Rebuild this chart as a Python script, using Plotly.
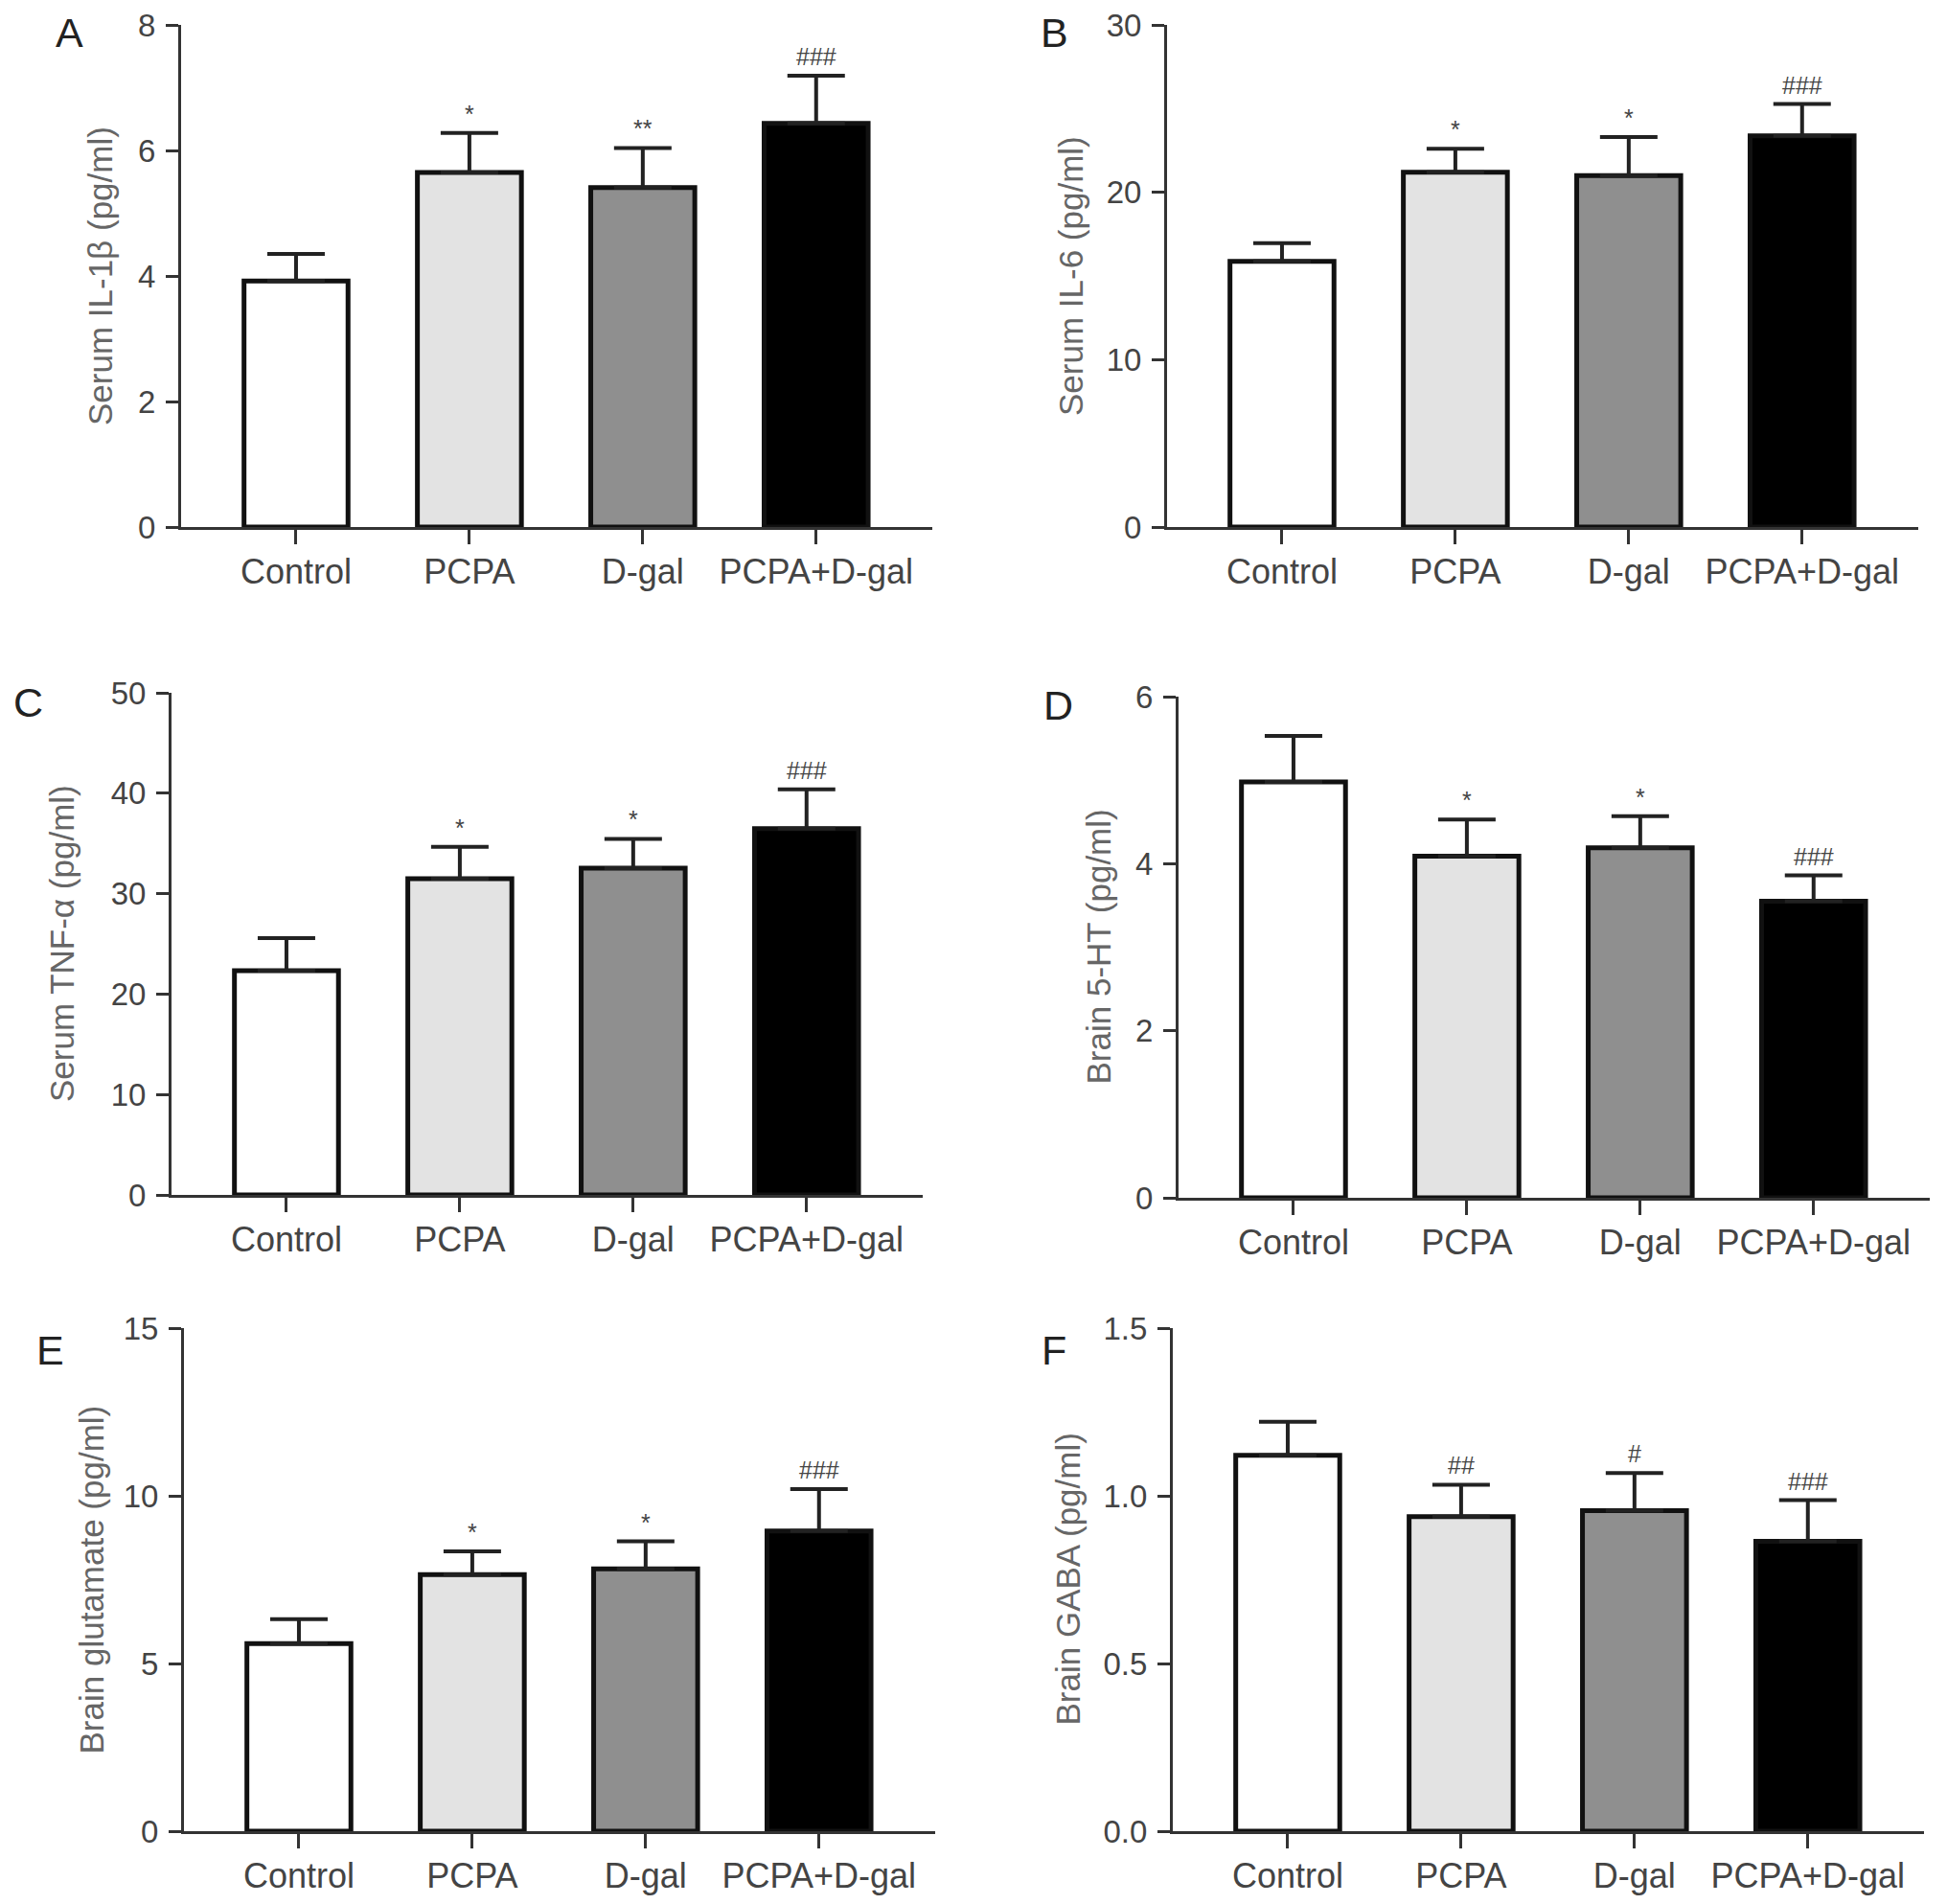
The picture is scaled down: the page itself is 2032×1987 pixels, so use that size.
import plotly.graph_objects as go

groups = ["Control", "PCPA", "D-gal", "PCPA+D-gal"]
bar_colors = ["#ffffff", "#e3e3e3", "#8f8f8f", "#000000"]

# means and upper error (SEM)
il1b_mean = [3.92, 5.65, 5.41, 6.43]
il1b_sem = [0.43, 0.63, 0.63, 0.76]
il1b_marks = ["", "*", "**", "###"]

il6_mean = [15.87, 21.2, 21.0, 23.38]
il6_sem = [1.09, 1.4, 2.3, 1.89]
il6_marks = ["", "*", "*", "###"]

tnf_mean = [22.33, 31.5, 32.55, 36.47]
tnf_sem = [3.24, 3.15, 2.91, 3.92]
tnf_marks = ["", "*", "*", "###"]

ht5_mean = [4.98, 4.09, 4.19, 3.55]
ht5_sem = [0.55, 0.44, 0.38, 0.31]
ht5_marks = ["", "*", "*", "###"]

glu_mean = [5.59, 7.65, 7.82, 8.95]
glu_sem = [0.73, 0.69, 0.82, 1.25]
glu_marks = ["", "*", "*", "###"]

gaba_mean = [1.121, 0.938, 0.956, 0.864]
gaba_sem = [0.10, 0.095, 0.112, 0.123]
gaba_marks = ["", "##", "#", "###"]

# page body has an 8px margin, so the figure is a bit smaller than the window
OFF = 8
W, H = 2032 - 2 * OFF, 1987 - 2 * OFF


def px_x(v):
    return (v - OFF) / W


def px_y(v):
    return 1 - (v - OFF) / H


# letter, y title, data, y max, dtick, tick format,
# y-axis x (px), plot top (px), plot bottom (px), title offset (px), letter pos (px)
panels = [
    ("A", "Serum IL-1\u03b2 (pg/ml)", il1b_mean, il1b_sem, il1b_marks, 8, 2, "", 189, 26, 550, 85, (72, 34)),
    ("B", "Serum IL-6 (pg/ml)", il6_mean, il6_sem, il6_marks, 30, 10, "", 1218, 26, 550, 101, (1100, 34)),
    ("C", "Serum TNF-\u03b1 (pg/ml)", tnf_mean, tnf_sem, tnf_marks, 50, 10, "", 179, 723, 1247, 115, (29, 733)),
    ("D", "Brain 5-HT (pg/ml)", ht5_mean, ht5_sem, ht5_marks, 6, 2, "", 1230, 727, 1250, 84, (1104, 736)),
    ("E", "Brain glutamate (pg/ml)", glu_mean, glu_sem, glu_marks, 15, 5, "", 192, 1386, 1911, 97, (52, 1409)),
    ("F", "Brain GABA (pg/ml)", gaba_mean, gaba_sem, gaba_marks, 1.5, 0.5, ".1f", 1224, 1386, 1911, 110, (1100, 1409)),
]

font_name = "Liberation Sans, Arial, Helvetica, sans-serif"
axis_col = "#333333"
plot_w = 784
x_range = [-0.663, 3.67]

fig = go.Figure()
annotations = []
layout = {}

for i, (letter, ytitle, mean, sem, marks, ymax, dtick, tfmt, ax_x, top, bottom, toff, lpos) in enumerate(panels, start=1):
    xa = "x" if i == 1 else f"x{i}"
    ya = "y" if i == 1 else f"y{i}"
    xkey = "xaxis" if i == 1 else f"xaxis{i}"
    ykey = "yaxis" if i == 1 else f"yaxis{i}"

    fig.add_trace(go.Bar(
        x=groups, y=mean, width=0.6,
        marker=dict(color=bar_colors, line=dict(color="#111111", width=5)),
        error_y=dict(type="data", symmetric=False, array=sem, arrayminus=[0] * len(sem),
                     color="#222222", thickness=4, width=30),
        xaxis=xa, yaxis=ya, showlegend=False,
    ))

    layout[xkey] = dict(
        domain=[px_x(ax_x), px_x(ax_x + plot_w)], anchor=ya, type="category",
        range=x_range, showline=True, linewidth=3, linecolor=axis_col,
        ticks="outside", ticklen=15, tickwidth=3, tickcolor=axis_col,
        tickfont=dict(family=font_name, size=36, color="#444444"),
        ticklabelstandoff=-2, ticklabeloverflow="allow",
        showgrid=False, zeroline=False, fixedrange=True, automargin=False,
    )
    layout[ykey] = dict(
        domain=[px_y(bottom), px_y(top)], anchor=xa,
        range=[0, ymax], dtick=dtick, tick0=0, tickformat=tfmt,
        showline=True, linewidth=3, linecolor=axis_col,
        ticks="outside", ticklen=13, tickwidth=3, tickcolor=axis_col,
        tickfont=dict(family=font_name, size=33, color="#444444"),
        ticklabelstandoff=4, ticklabeloverflow="allow",
        showgrid=False, zeroline=False, fixedrange=True, automargin=False,
    )

    # y-axis title
    annotations.append(dict(
        text=ytitle, xref=f"{xa} domain", yref=f"{ya} domain", x=0, y=0.5,
        xshift=-toff, xanchor="center", yanchor="middle", textangle=-90,
        showarrow=False, font=dict(family=font_name, size=35, color="#666666"),
    ))
    # panel letter
    annotations.append(dict(
        text=letter, xref="paper", yref="paper", x=px_x(lpos[0]), y=px_y(lpos[1]),
        xanchor="center", yanchor="middle", showarrow=False, borderpad=0,
        font=dict(family=font_name, size=43, color="#222222"),
    ))
    # significance marks
    for g, m, s, mk in zip(groups, mean, sem, marks):
        if mk:
            annotations.append(dict(
                text=mk, xref=xa, yref=ya, x=g, y=m + s, yanchor="bottom", yshift=4,
                showarrow=False, font=dict(family=font_name, size=25, color="#444444"),
            ))

fig.update_layout(
    width=W, height=H, margin=dict(l=0, r=0, t=0, b=0, autoexpand=False),
    paper_bgcolor="white", plot_bgcolor="white",
    annotations=annotations, **layout,
)

fig.write_html("out.html")
